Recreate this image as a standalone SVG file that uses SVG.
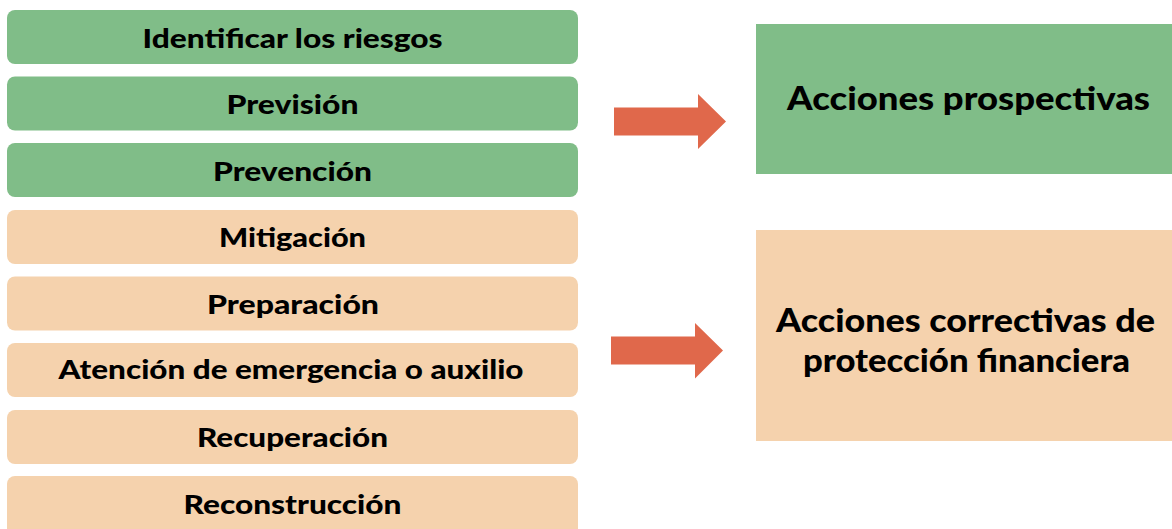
<svg xmlns="http://www.w3.org/2000/svg" width="1172" height="529" viewBox="0 0 1172 529">
<style>
.g{fill:#80BD88}
.p{fill:#F5D2AD}
.t{font-family:Lato,"Liberation Sans",sans-serif;font-weight:900;font-size:27px;fill:#000;text-anchor:middle}
.T{font-family:Lato,"Liberation Sans",sans-serif;font-weight:900;font-size:32px;fill:#000;text-anchor:middle}
.a{fill:#E0684B}
</style>
<rect width="1172" height="529" fill="#fff"/>
<g id="n1"><rect class="g" x="7" y="10" width="571" height="54" rx="8"/><text class="t" x="292.5" y="48" textLength="300" lengthAdjust="spacingAndGlyphs">Identificar los riesgos</text></g>
<g id="n2"><rect class="g" x="7" y="76.5" width="571" height="54" rx="8"/><text class="t" x="292.5" y="114" textLength="132" lengthAdjust="spacingAndGlyphs">Previsión</text></g>
<g id="n3"><rect class="g" x="7" y="143" width="571" height="54" rx="8"/><text class="t" x="292.5" y="180.5" textLength="159" lengthAdjust="spacingAndGlyphs">Prevención</text></g>
<g id="n4"><rect class="p" x="7" y="210" width="571" height="54" rx="8"/><text class="t" x="292.5" y="247" textLength="147" lengthAdjust="spacingAndGlyphs">Mitigación</text></g>
<g id="n5"><rect class="p" x="7" y="276.5" width="571" height="54" rx="8"/><text class="t" x="293" y="313.5" textLength="172" lengthAdjust="spacingAndGlyphs">Preparación</text></g>
<g id="n6"><rect class="p" x="7" y="343" width="571" height="54" rx="8"/><text class="t" x="291" y="379" textLength="465" lengthAdjust="spacingAndGlyphs">Atención de emergencia o auxilio</text></g>
<g id="n7"><rect class="p" x="7" y="410" width="571" height="54" rx="8"/><text class="t" x="292.5" y="446.5" textLength="191" lengthAdjust="spacingAndGlyphs">Recuperación</text></g>
<g id="n8"><rect class="p" x="7" y="476" width="571" height="62" rx="8"/><text class="t" x="292.5" y="514" textLength="218" lengthAdjust="spacingAndGlyphs">Reconstrucción</text></g>
<g id="r1"><rect class="g" x="756" y="24" width="416" height="150"/><text class="T" x="968.5" y="110" textLength="363" lengthAdjust="spacingAndGlyphs">Acciones prospectivas</text></g>
<g id="r2"><rect class="p" x="756" y="230" width="416" height="211"/><text class="T" x="965.5" y="331.5" textLength="379" lengthAdjust="spacingAndGlyphs">Acciones correctivas de</text><text class="T" x="966.5" y="371.5" textLength="327" lengthAdjust="spacingAndGlyphs">protección financiera</text></g>
<g id="connectors">
<polygon class="a" points="614,107.5 698,107.5 698,94 726,121.5 698,149 698,135.5 614,135.5"/>
<polygon class="a" points="611,336.5 695,336.5 695,323 723,350.5 695,378.5 695,364.5 611,364.5"/>
</g>
</svg>
